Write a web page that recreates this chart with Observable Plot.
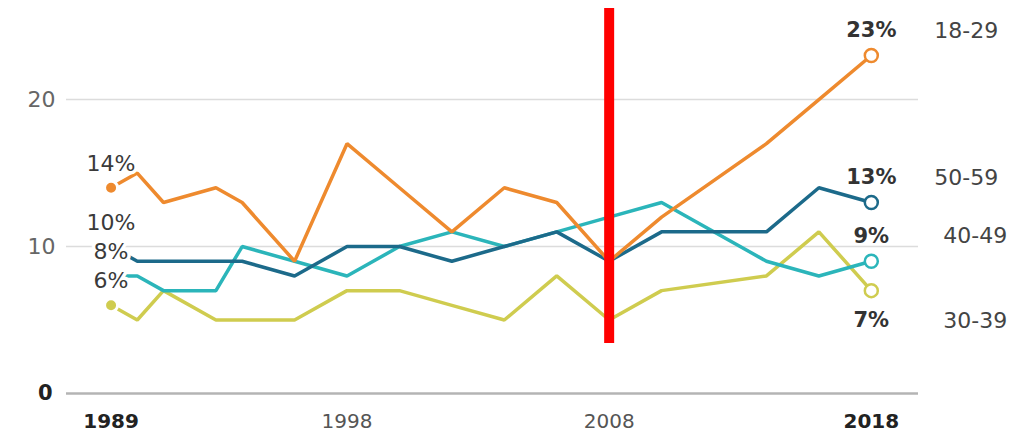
<!DOCTYPE html>
<html><head><meta charset="utf-8">
<script src="https://cdn.jsdelivr.net/npm/d3@7"></script>
<script src="https://cdn.jsdelivr.net/npm/@observablehq/plot@0.6"></script>
<style>html,body{margin:0;padding:0;background:#fff} svg{display:block}</style>
</head><body><div id="chart"></div>
<script>
// ---- data ----
const years    = [1989,1990,1991,1993,1994,1996,1998,2000,2002,2004,2006,2008,2010,2014,2016,2018];
const age18_29 = [14,15,13,14,13,9,17,14,11,14,13,9,12,17,20,23];
const age30_39 = [6,5,7,5,5,5,7,7,6,5,8,5,7,8,11,7];
const age40_49 = [8,8,7,7,10,9,8,10,11,10,11,12,13,9,8,9];
const age50_59 = [10,9,9,9,9,8,10,10,9,10,11,9,11,11,14,13];
const seriesNames  = ["18-29","30-39","40-49","50-59"];
const seriesColors = ["#EE8A2E","#CFCC4F","#2BB5BA","#1C6A8A"];
const boldYears   = ["1989","2018"];
const normalYears = ["1998","2008"];
const yTicksBold  = [0];
const yTicksGray  = [10,20];
const highlightYear = 2008;
const highlightSpan = [3.4, 26.2];   // vertical extent of red marker, in % units
const startDotSeries = ["18-29","30-39"];

// ---- build table ----
const seriesValues = {"18-29": age18_29, "30-39": age30_39, "40-49": age40_49, "50-59": age50_59};
const drawOrder = ["30-39","40-49","50-59","18-29"];
const rows = [];
for (const s of drawOrder) years.forEach((y,i) => {
  const v = seriesValues[s][i];
  if (v != null) rows.push({series: s, year: y, value: v});
});
const first = rows.filter(d => d.year === years[0]);
const last  = rows.filter(d => d.year === years[years.length-1]);
const lastUpper = last.filter(d => d.series !== "30-39");
const lastLower = last.filter(d => d.series === "30-39");

const F = "DejaVu Sans, Liberation Sans, sans-serif";

const chart = Plot.plot({
  width: 1030,
  height: 434,
  marginLeft: 66,
  marginRight: 112,
  marginTop: 8,
  marginBottom: 41,
  style: {fontFamily: F, background: "#fff", overflow: "visible"},
  x: {domain: [1987.3, 2019.8], axis: null},
  y: {domain: [0, 26.2], axis: null},
  color: {domain: seriesNames, range: seriesColors},
  marks: [
    Plot.ruleY(yTicksGray, {stroke: "#dcdcdc", strokeWidth: 1.5}),
    Plot.ruleY(yTicksBold, {stroke: "#b4b4b4", strokeWidth: 2.5}),
    Plot.line(rows, {x: "year", y: "value", z: "series", stroke: "series", strokeWidth: 3.5, strokeLinejoin: "miter", strokeLinecap: "butt"}),
    Plot.ruleX([highlightYear], {y1: highlightSpan[0], y2: highlightSpan[1], stroke: "#ff0000", strokeWidth: 10}),
    Plot.dot(first.filter(d => startDotSeries.includes(d.series)), {x: "year", y: "value", fill: "series", stroke: "white", strokeWidth: 3, r: 6.5}),
    Plot.dot(last, {x: "year", y: "value", fill: "white", stroke: "series", strokeWidth: 2.5, r: 6.5}),
    // left start labels with white halo
    Plot.text(first, {x: "year", y: "value", text: d => d.value + "%", dy: -24, fontSize: 22, fill: "#3a3a3a", stroke: "white", strokeWidth: 7, paintOrder: "stroke"}),
    // right end labels
    Plot.text(lastUpper, {x: "year", y: "value", text: d => d.value + "%", dy: -25, fontSize: 21, fontWeight: "bold", fill: "#333"}),
    Plot.text(lastLower, {x: "year", y: "value", text: d => d.value + "%", dy: 30, fontSize: 21, fontWeight: "bold", fill: "#333"}),
    Plot.text(lastUpper.filter(d => d.series !== "40-49"), {x: "year", y: "value", text: "series", dy: -25, dx: 63, textAnchor: "start", fontSize: 22, fill: "#444"}),
    Plot.text(lastUpper.filter(d => d.series === "40-49"), {x: "year", y: "value", text: "series", dy: -25, dx: 72, textAnchor: "start", fontSize: 22, fill: "#444"}),
    Plot.text(lastLower, {x: "year", y: "value", text: "series", dy: 30, dx: 72, textAnchor: "start", fontSize: 22, fill: "#444"}),
    // x tick labels
    Plot.text(boldYears, {x: d => +d, y: () => 0, text: d => d, dy: 28, fontSize: 20, fontWeight: "bold", fill: "#222"}),
    Plot.text(normalYears, {x: d => +d, y: () => 0, text: d => d, dy: 28, fontSize: 20, fill: "#555"}),
    // y tick labels
    Plot.text(yTicksBold, {y: d => d, frameAnchor: "left", dx: -14, textAnchor: "end", fontSize: 21, fontWeight: "bold", fill: "#222"}),
    Plot.text(yTicksGray, {y: d => d, frameAnchor: "left", dx: -11, textAnchor: "end", fontSize: 22, fill: "#666"})
  ]
});
document.getElementById("chart").appendChild(chart);
</script>
</body></html>
